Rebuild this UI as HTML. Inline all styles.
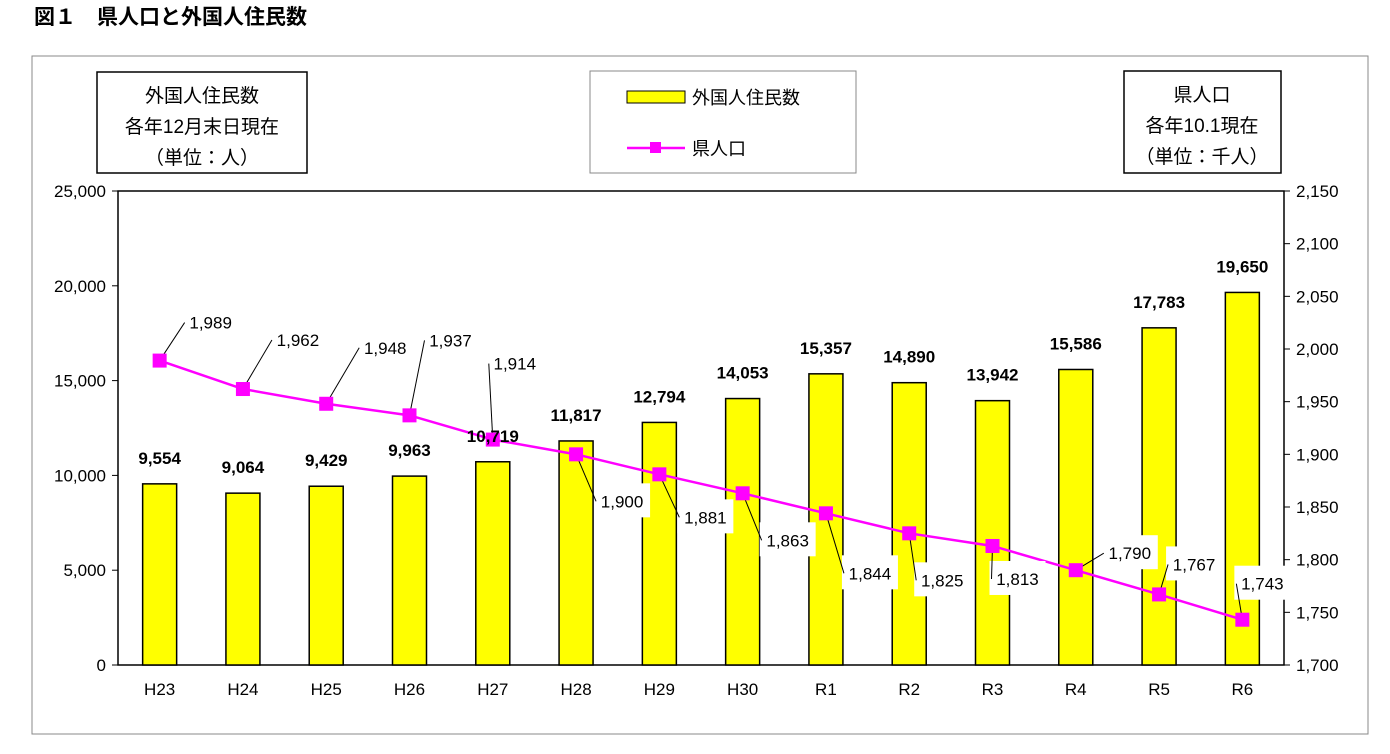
<!DOCTYPE html>
<html><head><meta charset="utf-8"><style>
body{margin:0;background:#fff;width:1390px;height:749px;overflow:hidden;font-family:"Liberation Sans","Noto Sans CJK JP",sans-serif}
</style></head><body>
<svg width="1390" height="749" xmlns="http://www.w3.org/2000/svg" font-family="Liberation Sans, Noto Sans CJK JP, sans-serif">
<text x="34" y="24" font-size="21" font-weight="bold">図１　県人口と外国人住民数</text>
<rect x="32" y="56" width="1336" height="678" fill="#fff" stroke="#888" stroke-width="1"/>
<g>
<rect x="97" y="72" width="210" height="101" fill="#fff" stroke="#000" stroke-width="1.5"/>
<text x="202" y="102" font-size="19" text-anchor="middle">外国人住民数</text>
<text x="202" y="133" font-size="19" text-anchor="middle">各年12月末日現在</text>
<text x="202" y="164" font-size="19" text-anchor="middle">（単位：人）</text>
</g>
<g>
<rect x="1124" y="71" width="157" height="102" fill="#fff" stroke="#000" stroke-width="1.5"/>
<text x="1202" y="101" font-size="19" text-anchor="middle">県人口</text>
<text x="1202" y="132" font-size="19" text-anchor="middle">各年10.1現在</text>
<text x="1202" y="163" font-size="19" text-anchor="middle">（単位：千人）</text>
</g>
<g>
<rect x="590" y="71" width="266" height="102" fill="#fff" stroke="#888"/>
<rect x="627" y="91" width="58" height="12" fill="#ffff00" stroke="#000"/>
<text x="692" y="104" font-size="18">外国人住民数</text>
<line x1="627" y1="148" x2="685" y2="148" stroke="#ff00ff" stroke-width="2.5"/>
<rect x="650" y="142" width="11" height="11" fill="#ff00ff"/>
<text x="692" y="155" font-size="18">県人口</text>
</g>
<g id="plot"></g>
</svg>
<script>
const categories=["H23","H24","H25","H26","H27","H28","H29","H30","R1","R2","R3","R4","R5","R6"];
const foreignResidents=[9554,9064,9429,9963,10719,11817,12794,14053,15357,14890,13942,15586,17783,19650];
const population=[1989,1962,1948,1937,1914,1900,1881,1863,1844,1825,1813,1790,1767,1743];
const leftTicks=[0,5000,10000,15000,20000,25000];
const rightTicks=[1700,1750,1800,1850,1900,1950,2000,2050,2100,2150];
const labelOffsets=[[51,-38],[55,-49],[59,-56],[41,-75],[22,-76],[46,47],[46,43],[45,47],[44,60],[33,47],[25,33],[54,-17],[35,-30],[20,-36]];
const NS="http://www.w3.org/2000/svg";
const g=document.getElementById('plot');
const X0=118,X1=1284,Y0=665,Y1=191;
const step=(X1-X0)/categories.length;
const xc=i=>X0+step*(i+0.5);
const yL=v=>Y0-(v-0)/(25000)*(Y0-Y1);
const yR=v=>Y0-(v-1700)/(450)*(Y0-Y1);
const fmt=v=>v.toLocaleString('en-US');
function mk(tag,attrs,parent){const e=document.createElementNS(NS,tag);for(const k in attrs)e.setAttribute(k,attrs[k]);(parent||g).appendChild(e);return e;}
const area=mk('rect',{x:X0,y:Y1,width:X1-X0,height:Y0-Y1,fill:'#fff',stroke:'#000','stroke-width':1.5});


leftTicks.forEach(t=>{const y=yL(t);
mk('line',{x1:X0-6,y1:y,x2:X0,y2:y,stroke:'#000'});
const tx=mk('text',{x:X0-12,y:y+6,'font-size':17,'text-anchor':'end'});tx.textContent=fmt(t);

});
rightTicks.forEach(t=>{const y=yR(t);
mk('line',{x1:X1,y1:y,x2:X1+6,y2:y,stroke:'#000'});
const tx=mk('text',{x:X1+12,y:y+6,'font-size':17});tx.textContent=fmt(t);

});
categories.forEach((c,i)=>{
const tx=mk('text',{x:xc(i),y:Y0+30,'font-size':17,'text-anchor':'middle'});tx.textContent=c;


const v=foreignResidents[i],y=yL(v);
const b=mk('rect',{x:xc(i)-17,y:y,width:34,height:Y0-y,fill:'#ffff00',stroke:'#000','stroke-width':1.5});


});
const pts=population.map((v,i)=>xc(i)+','+yR(v)).join(' ');
const pl=mk('polyline',{points:pts,fill:'none',stroke:'#ff00ff','stroke-width':2.5});


population.forEach((v,i)=>{
const px=xc(i),py=yR(v),[dx,dy]=labelOffsets[i];
const lx=px+dx,ly=py+dy;
const bx=mk('rect',{x:lx-28,y:ly-18,width:56,height:34,fill:'#fff'});


const ex=dx>0?lx-26:lx;
mk('polyline',{points:`${px},${py} ${ex},${ly}`,fill:'none',stroke:'#000','stroke-width':1});
const m=mk('rect',{x:px-7,y:py-7,width:14,height:14,fill:'#ff00ff'});


const t=mk('text',{x:lx,y:ly+6,'font-size':17,'text-anchor':'middle'});t.textContent=fmt(v);


});
foreignResidents.forEach((v,i)=>{
const bl=mk('text',{x:xc(i),y:yL(v)-20,'font-size':17,'font-weight':'bold','text-anchor':'middle'});bl.textContent=fmt(v);


});
</script>
</body></html>
